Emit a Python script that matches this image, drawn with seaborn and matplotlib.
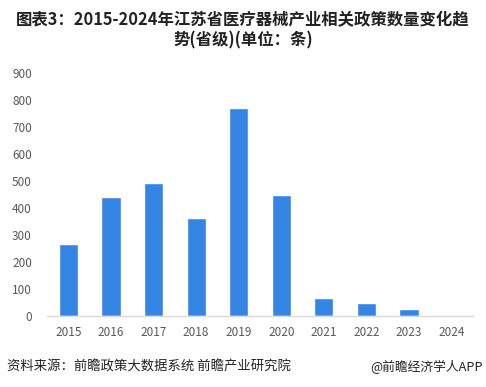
import matplotlib
matplotlib.use("Agg")
import matplotlib.pyplot as plt
import seaborn as sns
import pandas as pd

years = ["2015", "2016", "2017", "2018", "2019", "2020", "2021", "2022", "2023", "2024"]
counts = [266, 441, 493, 363, 771, 448, 66, 47, 25, 3]
yticks = [0, 100, 200, 300, 400, 500, 600, 700, 800, 900]

title = "图表3：2015-2024年江苏省医疗器械产业相关政策数量变化趋\n势(省级)(单位：条)"
source = "资料来源：前瞻政策大数据系统 前瞻产业研究院"
brand = "@前瞻经济学人APP"

sns.set_theme(style="white")
plt.rcParams["font.family"] = ["Noto Sans CJK SC", "DejaVu Sans"]

df = pd.DataFrame({"year": years, "count": counts})

fig = plt.figure(figsize=(4.86, 3.87), dpi=100)
ax = fig.add_axes([0.097, 0.184, 0.876, 0.627])
sns.barplot(data=df, x="year", y="count", color="#3585E5", saturation=1,
            width=0.45, ax=ax)
ax.set_ylim(0, 900)
ax.set_yticks(yticks)
ax.set_xlabel("")
ax.set_ylabel("")
for s in ["top", "right", "left"]:
    ax.spines[s].set_visible(False)
ax.spines["bottom"].set_color("#D9D9D9")
ax.spines["bottom"].set_linewidth(1)
ax.tick_params(axis="both", length=0, labelsize=8.5, colors="#595959")
ax.tick_params(axis="x", pad=7)
ax.tick_params(axis="y", pad=11)

fig.text(0.5, 0.922, title, ha="center", va="center", fontsize=11.8,
         fontweight="bold", color="#222222", linespacing=1.2)
fig.text(0.014, 0.052, source, ha="left", va="center", fontsize=9.6, color="#222222")
fig.text(0.994, 0.052, brand, ha="right", va="center", fontsize=9.2, color="#222222")

fig.savefig("out.png", dpi=100, facecolor="white")
